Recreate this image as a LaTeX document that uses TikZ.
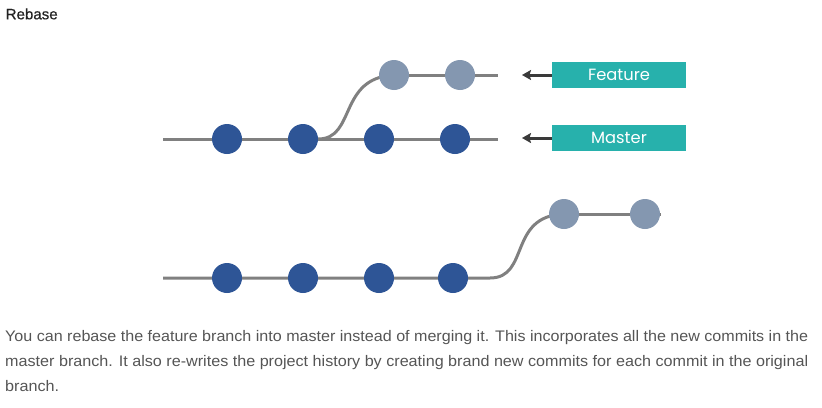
\documentclass[tikz,border=0pt]{standalone}
\usepackage{fontspec}
\usepackage{graphicx}
\setmainfont{Liberation Sans}
\newfontfamily\boxfont{Poppins}
\newfontfamily\titlefont[FakeBold=0.6]{Liberation Sans}
\usetikzlibrary{arrows.meta,backgrounds}
\definecolor{commitdark}{HTML}{2E5596}
\definecolor{commitlight}{HTML}{8497B0}
\definecolor{linegray}{HTML}{808080}
\definecolor{tealbox}{HTML}{27B1AC}
\definecolor{bodytext}{HTML}{555555}
\definecolor{titletext}{HTML}{222222}
\definecolor{arrowdark}{HTML}{3A3A3A}
\tikzset{
  commit/.style={circle, inner sep=0pt, minimum size=30pt, fill=commitdark},
  featcommit/.style={circle, inner sep=0pt, minimum size=30pt, fill=commitlight},
  branchline/.style={draw=linegray, line width=3pt},
  label box/.style={fill=tealbox, text=white, minimum width=134pt, minimum height=26.5pt, inner sep=0pt, font=\boxfont\fontsize{16.3pt}{19pt}\selectfont},
  pointer/.style={draw=arrowdark, line width=3pt, -{Stealth[length=9pt,width=10pt,inset=1.5pt]}},
  bodyline/.style={anchor=base west, inner sep=0pt, text=bodytext, font=\fontsize{15.3pt}{18pt}\selectfont}
}
\begin{document}
\begin{tikzpicture}[x=1pt,y=-1pt]
\useasboundingbox (0,0) rectangle (822,407);
% title
\node[anchor=base west, inner sep=0pt, text=titletext, font=\titlefont\fontsize{15pt}{18pt}\selectfont] (title) at (5.5,19.3) {\resizebox{52pt}{\height}{Rebase}};
% top diagram
\coordinate (mstart) at (163,139);
\coordinate (mend) at (498,139);
\coordinate (fend) at (498,75);
\node[commit] (m1) at (227,139) {};
\node[commit] (m2) at (303,139) {};
\node[commit] (m3) at (379,139) {};
\node[commit] (m4) at (455,139) {};
\node[featcommit] (f1) at (394,75) {};
\node[featcommit] (f2) at (460,75) {};
\begin{scope}[on background layer]
\draw[branchline] (mstart) -- (m1) -- (m2) -- (m3) -- (m4) -- (mend);
\draw[branchline] (f1) -- (f2) -- (fend);
\draw[branchline] (m2.east) .. controls (356,139) and (338,78) .. (f1.center);
\end{scope}
\node[label box] (featbox) at (619,75) {Feature};
\node[label box] (mastbox) at (619,138) {Master};
\coordinate (fptr) at (522,75);
\coordinate (mptr) at (522,138);
\draw[pointer] (featbox.west) -- (fptr);
\draw[pointer] (mastbox.west) -- (mptr);
% bottom diagram
\coordinate (bstart) at (163,278);
\coordinate (bend) at (661,214);
\coordinate (bturn) at (490,278);
\node[commit] (b1) at (227,278) {};
\node[commit] (b2) at (303,278) {};
\node[commit] (b3) at (379,278) {};
\node[commit] (b4) at (453,278) {};
\node[featcommit] (r1) at (564,214) {};
\node[featcommit] (r2) at (645,214) {};
\begin{scope}[on background layer]
\draw[branchline] (bstart) -- (b1) -- (b2) -- (b3) -- (b4) -- (bturn) .. controls (530,278) and (508,216) .. (r1.center);
\draw[branchline] (r1) -- (r2) -- (bend);
\end{scope}
% body text
\node[bodyline] (t1) at (5,341.7) {\resizebox{803pt}{\height}{You can rebase the feature branch into master instead of merging it. This incorporates all the new commits in the}};
\node[bodyline] (t2) at (5,366.7) {\resizebox{803pt}{\height}{master branch. It also re-writes the project history by creating brand new commits for each commit in the original}};
\node[bodyline] (t3) at (5,391.7) {\resizebox{54pt}{\height}{branch.}};
\end{tikzpicture}
\end{document}
